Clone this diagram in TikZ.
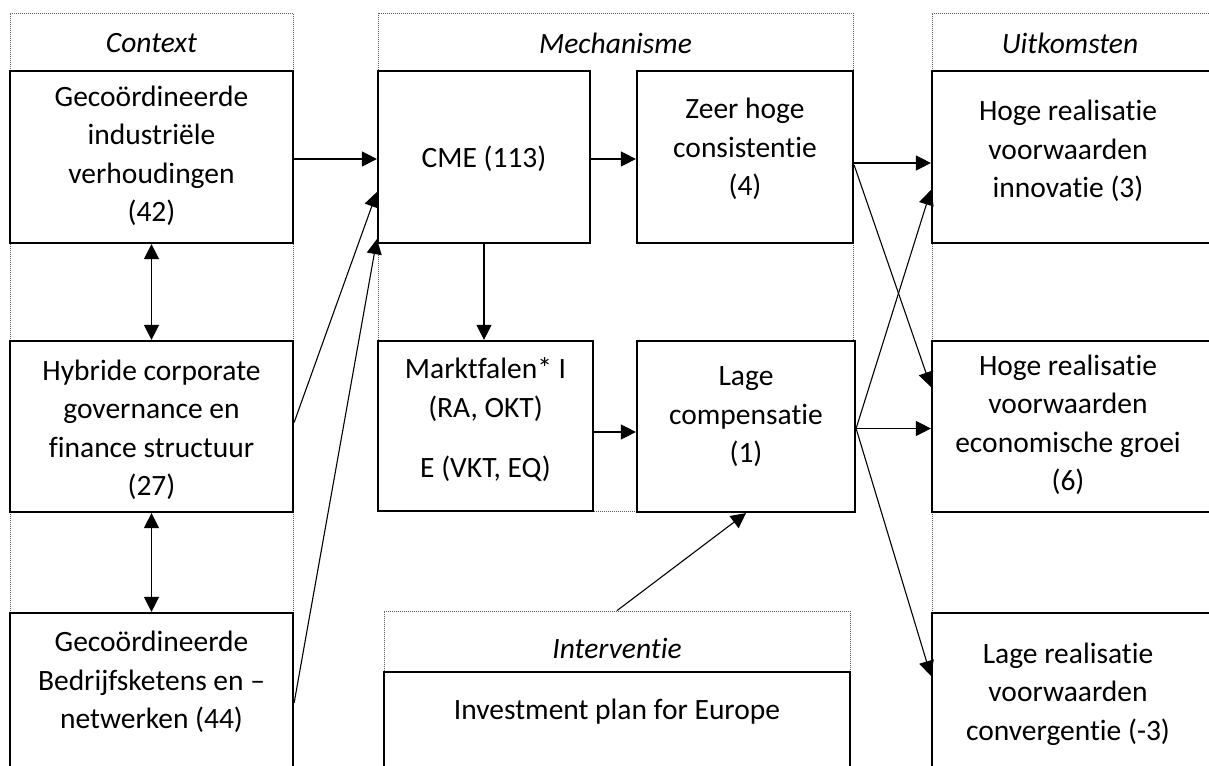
\documentclass[tikz,border=0pt]{standalone}
\usepackage{fontspec}
\setmainfont{Carlito}[Ligatures=NoCommon]
\usetikzlibrary{arrows.meta,fit,calc}
\begin{document}
\begin{tikzpicture}[x=1pt,y=-1pt,
  frame/.style={draw=gray!70!black, line width=0.8pt, dash pattern=on 1pt off 1pt, inner sep=0pt},
  box/.style={draw=black, line width=2.2pt, fill=white, inner sep=0pt},
  txt/.style={align=center, inner sep=0pt, font={\fontsize{29.5}{38.5}\selectfont}},
  ttl/.style={txt, font={\fontsize{29.5}{38.5}\selectfont\itshape}},
  con/.style={line width=1.1pt, -{Triangle[length=15pt,width=15pt]}},
  dcon/.style={line width=1.1pt, {Triangle[length=15pt,width=15pt]}-{Triangle[length=15pt,width=15pt]}}
]
\useasboundingbox (0,0) rectangle (1209,765);
\clip (0,0) rectangle (1209,765);
\fill[white] (0,0) rectangle (1209,765);
% frames
\node[frame, fit={(10,13)(293,800)}] (ctxf) {};
\node[frame, fit={(378,13)(853,511)}] (mechf) {};
\node[frame, fit={(932,13)(1215,800)}] (outf) {};
\node[frame, fit={(384,611)(850,800)}] (intf) {};
% boxes
\node[box, fit={(10,71)(293,243)}] (ctx1) {};
\node[box, fit={(10,341)(293,512)}] (ctx2) {};
\node[box, fit={(10,613)(293,800)}] (ctx3) {};
\node[box, fit={(378,71)(590,243)}] (cme) {};
\node[box, fit={(637,71)(853,243)}] (zeer) {};
\node[box, fit={(378,341)(593,511)}] (markt) {};
\node[box, fit={(637,341)(855,512)}] (lage) {};
\node[box, fit={(932,71)(1215,243)}] (out1) {};
\node[box, fit={(932,341)(1215,512)}] (out2) {};
\node[box, fit={(932,613)(1215,800)}] (out3) {};
\node[box, fit={(384,672)(850,800)}] (inv) {};
% titles
\node[ttl] (tctx) at (151.5,43) {Context};
\node[ttl] (tmech) at (615.5,43) {Mechanisme};
\node[ttl] (tout) at (1070,43) {Uitkomsten};
\node[ttl] (tint) at (617,648) {Interventie};
% texts
\node[txt] (ctx1t) at (151.5,156) {Gecoördineerde\\industriële\\verhoudingen\\(42)};
\node[txt] (ctx2t) at (151.5,430) {Hybride corporate\\governance en\\finance structuur\\(27)};
\node[txt] (ctx3t) at (151.5,682) {Gecoördineerde\\Bedrijfsketens en –\\netwerken (44)};
\node[txt] (cmet) at (484,159) {CME (113)};
\node[txt] (zeert) at (745,149) {Zeer hoge\\consistentie\\(4)};
\node[txt] (marktt) at (485.5,420) {Marktfalen* I\\(RA, OKT)\\[22pt]E (VKT, EQ)};
\node[txt] (laget) at (746,417) {Lage\\compensatie\\(1)};
\node[txt] (out1t) at (1068,151) {Hoge realisatie\\voorwaarden\\innovatie (3)};
\node[txt] (out2t) at (1068,425) {Hoge realisatie\\voorwaarden\\economische groei\\(6)};
\node[txt] (out3t) at (1068,694) {Lage realisatie\\voorwaarden\\convergentie (-3)};
\node[txt] (invt) at (617,712) {Investment plan for Europe};
% connectors
\draw[con] ([yshift=-2pt]ctx1.east) -- ([yshift=-2pt]ctx1.east -| cme.west);
\draw[con] ([yshift=4pt]ctx2.east) -- ([yshift=-35pt]cme.west);
\draw[con] (ctx3.north east |- 0,703) -- ([yshift=5pt]cme.south west);
\draw[dcon] (ctx1.south) -- (ctx2.north);
\draw[dcon] (ctx2.south) -- (ctx3.north);
\draw[con] ([yshift=-2pt]cme.east) -- ([yshift=-2pt]cme.east -| zeer.west);
\draw[con] (cme.south) -- (cme.south |- markt.north);
\draw[con] ([yshift=-6pt]markt.east) -- ([yshift=-6pt]markt.east -| lage.west);
\draw[con] ([yshift=-6pt]zeer.east) -- ([yshift=-6pt]zeer.east -| out1.west);
\draw[con] ([yshift=-8pt]zeer.east) -- ([yshift=39.5pt]out2.west);
\draw[con] ([yshift=-2pt]lage.east) -- ([yshift=-33pt]out1.west);
\draw[con] ([yshift=-2pt]lage.east) -- ([yshift=-2pt]lage.east -| out2.west);
\draw[con] ([yshift=-2pt]lage.east) -- ([yshift=-64pt]out3.north west);
\draw[con] (intf.north) -- (lage.south);
\end{tikzpicture}
\end{document}
